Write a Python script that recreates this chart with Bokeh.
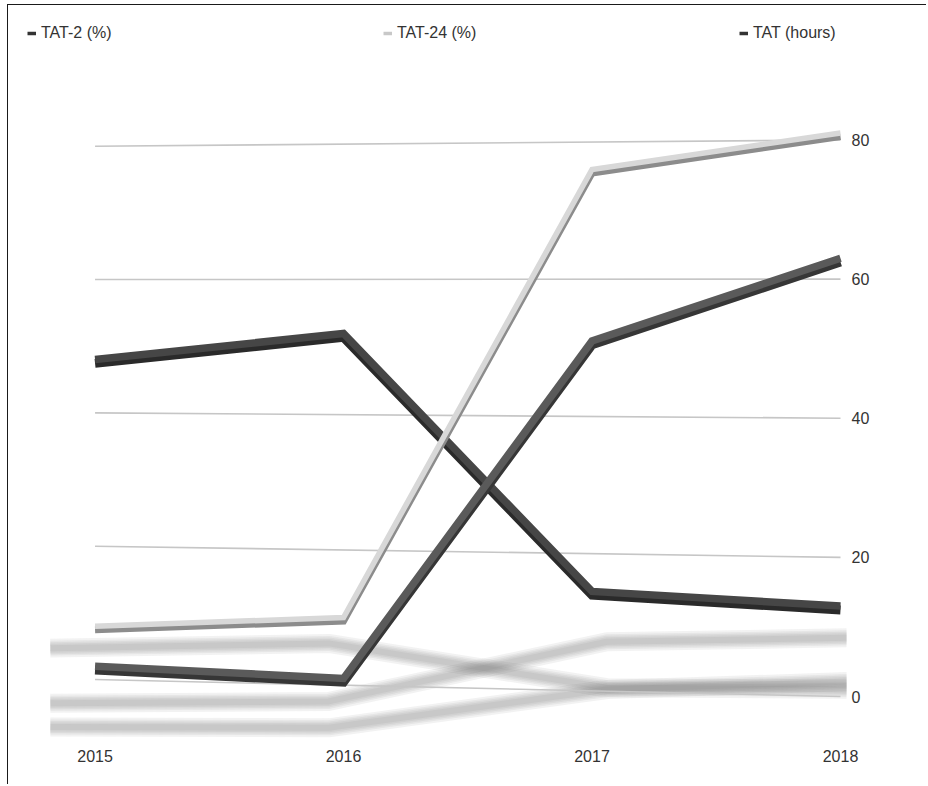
from bokeh.plotting import figure
from bokeh.models import FixedTicker, Legend, LegendItem, Range1d
from bokeh.embed import file_html
from bokeh.resources import INLINE

# ---------------- data ----------------
years = [2015, 2016, 2017, 2018]
tat2_pct = [2, 1, 51, 63]
tat24_pct = [8, 10, 76, 81]
tat_hours = [48, 52, 14.5, 13]
y_ticks = [0, 20, 40, 60, 80]
year_labels = ["2015", "2016", "2017", "2018"]
series_names = ["TAT-2 (%)", "TAT-24 (%)", "TAT (hours)"]

# ---------------- style ----------------
FONT = "Liberation Sans"
W, H = 919, 780
X_RANGE = (2014.6517, 2018.0242)
Y_RANGE = (-6.46, 99.32)

# mild perspective of the 3D original: far-left end slightly compressed
LEFT_SCALE, LEFT_SHIFT = 0.958, 2.45


def persp(xs, vs):
    out = []
    for x, v in zip(xs, vs):
        t = (x - years[0]) / (years[-1] - years[0])
        s = LEFT_SCALE + (1 - LEFT_SCALE) * t
        o = LEFT_SHIFT * (1 - t)
        out.append(v * s + o)
    return out


def floor_x(xs, spread=1.12):
    mid = (years[0] + years[-1]) / 2
    return [mid + (x - mid) * spread for x in xs]


p = figure(width=W, height=H, output_backend="svg", toolbar_location=None,
           x_range=Range1d(*X_RANGE), y_range=Range1d(*Y_RANGE),
           y_axis_location="right",
           min_border_left=0, min_border_top=0,
           min_border_right=81, min_border_bottom=44)
p.styles = {"margin-left": "7px", "margin-top": "4px",
            "border-left": "1.5px solid #1a1a1a",
            "border-top": "1.5px solid #1a1a1a"}
p.outline_line_color = None
p.background_fill_color = "white"
p.border_fill_color = "white"
p.xgrid.visible = False
p.ygrid.visible = False

# ---------------- soft floor shadows ----------------
shadow_specs = [
    (tat_hours, -1.2, 0.17),
    (tat24_pct, -2.0, 0.13),
    (tat2_pct, -4.6, 0.11),
]
for vals, off, k in shadow_specs:
    sx = floor_x(years)
    sy = [off + k * v for v in vals]
    for w in [19, 15, 12, 9, 6]:
        p.line(sx, sy, line_color="#6a6a6a", line_alpha=0.085, line_width=w,
               line_join="round", line_cap="butt")

# ---------------- slanted grid lines ----------------
g_left = persp([years[0]] * len(y_ticks), y_ticks)
g_right = persp([years[-1]] * len(y_ticks), y_ticks)
p.segment(x0=[years[0]] * len(y_ticks), y0=g_left,
          x1=[years[-1]] * len(y_ticks), y1=g_right,
          line_color="#c6c6c6", line_width=1.6)

# ---------------- 3D-ish ribbons ----------------
ribbons = [
    (tat_hours, "#464646", "#2a2a2a", 9, 0.55),
    (tat24_pct, "#d8d8d8", "#8c8c8c", 7, 0.5),
    (tat2_pct, "#5a5a5a", "#363636", 9, 0.55),
]
for vals, top, side, w, dz in ribbons:
    ys = persp(years, vals)
    p.line(years, [y - dz for y in ys], line_color=side, line_width=w,
           line_join="miter", line_cap="butt")
    p.line(years, ys, line_color=top, line_width=w - 1.5,
           line_join="miter", line_cap="butt")

# ---------------- legend (short dashes) ----------------
legend_colors = ["#333333", "#c8c8c8", "#333333"]
legend_vals = [tat2_pct, tat24_pct, tat_hours]
items = []
for name, c, vals in zip(series_names, legend_colors, legend_vals):
    r = p.line(years, vals, line_color=c, line_width=3.5, visible=False)
    items.append(LegendItem(label=name, renderers=[r]))
legend = Legend(items=items, orientation="horizontal", location="top_left",
                margin=19, padding=0, spacing=12,
                glyph_width=9, glyph_height=16, label_standoff=5,
                label_width=330, label_height=16,
                label_text_font=FONT, label_text_font_size="16px",
                label_text_color="#333333",
                background_fill_alpha=0, border_line_color=None)
p.add_layout(legend)

# ---------------- axes ----------------
p.yaxis.ticker = FixedTicker(ticks=y_ticks)
p.yaxis.axis_line_color = None
p.yaxis.major_tick_line_color = None
p.yaxis.minor_tick_line_color = None
p.yaxis.major_tick_out = 0
p.yaxis.major_label_standoff = 5
p.yaxis.major_label_text_font = FONT
p.yaxis.major_label_text_font_size = "16px"
p.yaxis.major_label_text_color = "#333333"

p.xaxis.ticker = FixedTicker(ticks=years)
p.xaxis.major_label_overrides = {y: l for y, l in zip(years, year_labels)}
p.xaxis.axis_line_color = None
p.xaxis.major_tick_line_color = None
p.xaxis.minor_tick_line_color = None
p.xaxis.major_tick_out = 0
p.xaxis.major_label_standoff = 8
p.xaxis.major_label_text_font = FONT
p.xaxis.major_label_text_font_size = "16px"
p.xaxis.major_label_text_color = "#333333"

open("out.html", "w").write(file_html(p, INLINE))
